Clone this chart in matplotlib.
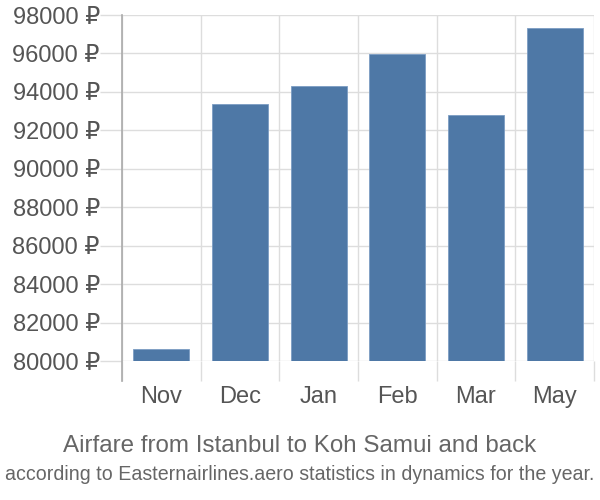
import matplotlib.pyplot as plt
import numpy as np

months = ['Nov', 'Dec', 'Jan', 'Feb', 'Mar', 'May']
prices = [80600, 93350, 94300, 95950, 92800, 97300]
yticks = [80000, 82000, 84000, 86000, 88000, 90000, 92000, 94000, 96000, 98000]

plt.rcParams['font.family'] = ['Liberation Sans', 'DejaVu Sans']

fig = plt.figure(figsize=(6, 5), dpi=100)
ax_h = 361 - 15
ax = fig.add_axes([122 / 600, 1 - 361 / 500, (594 - 122) / 600, ax_h / 500])

x = np.arange(len(months))
ax.bar(x, prices, width=0.71, color='#4e78a6', edgecolor='#7b9cc3', linewidth=0.6, zorder=3)

ax.set_xlim(-0.5, len(months) - 0.5)
ax.set_ylim(80000, 98000)

# category separators as long ticks, labels at centres
ax.set_xticks(np.arange(len(months) + 1) - 0.5)
ax.set_xticklabels([])
ax.set_xticks(x, minor=True)
ax.set_xticklabels(months, minor=True)
ax.tick_params(axis='x', which='major', length=14.5, width=1, color='#dddddd')
ax.tick_params(axis='x', which='minor', length=0, labelsize=17, labelcolor='#555555', pad=18)
ax.grid(axis='x', which='major', color='#dddddd', linewidth=1, zorder=0)

ax.set_yticks(yticks)
ax.set_yticklabels([f'{v} ₽' for v in yticks])
ax.tick_params(axis='y', length=16, width=1, color='#dddddd', labelsize=17, labelcolor='#555555', pad=0)
ax.grid(axis='y', color='#dddddd', linewidth=1, zorder=0)

for s in ['top', 'right', 'bottom', 'left']:
    ax.spines[s].set_visible(False)
# left axis line running down past the baseline
ax.plot([0, 0], [-20 / ax_h, 1], transform=ax.transAxes, clip_on=False,
        color='#aaaaaa', linewidth=1.2, zorder=4)

fig.text(0.5, 1 - 446 / 500, 'Airfare from Istanbul to Koh Samui and back',
         ha='center', va='center', fontsize=17.4, color='#666666')
fig.text(0.5, 1 - 475 / 500, 'according to Easternairlines.aero statistics in dynamics for the year.',
         ha='center', va='center', fontsize=14.1, color='#666666')

fig.savefig('out.png', dpi=100)
